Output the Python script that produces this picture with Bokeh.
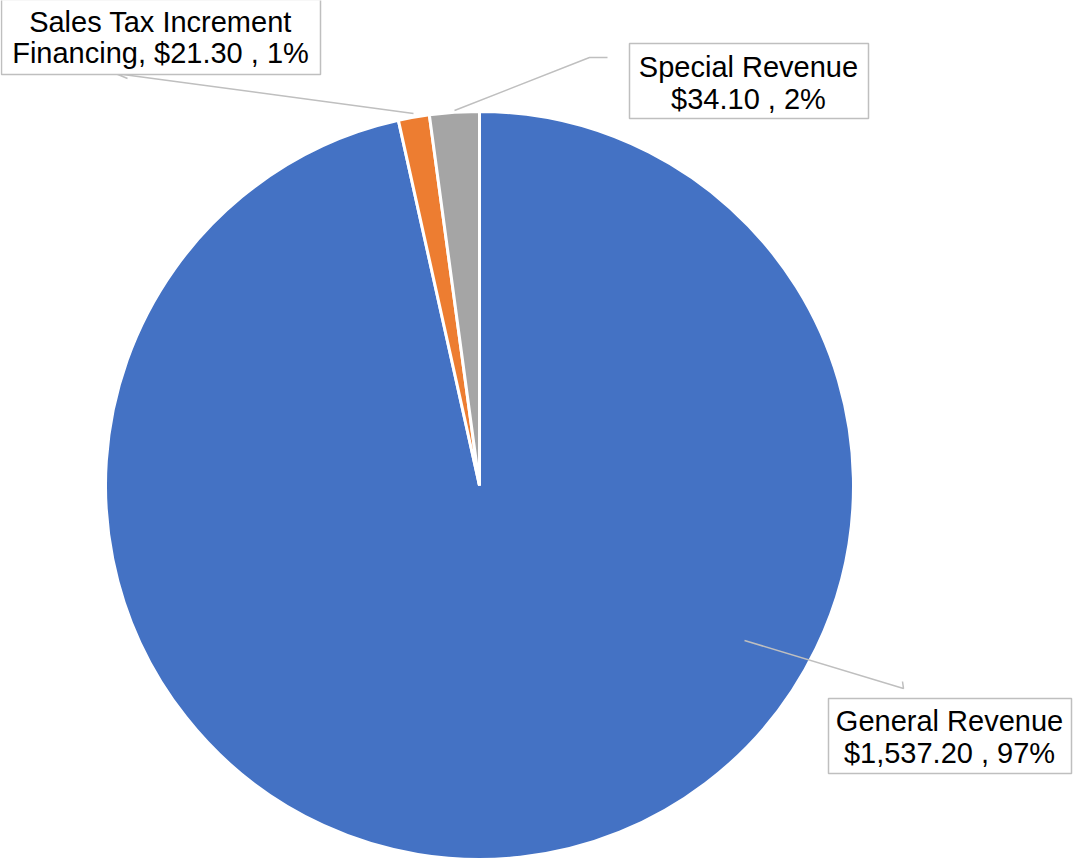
import math
from bokeh.plotting import figure
from bokeh.models import Range1d, ColumnDataSource
from bokeh.core.properties import value
from bokeh.embed import file_html
from bokeh.resources import INLINE

# ---- data ----
categories = ["General Revenue", "Sales Tax Increment Financing", "Special Revenue"]
amounts = [1537.20, 21.30, 34.10]
colors = ["#4472C4", "#ED7D31", "#A5A5A5"]

# ---- layout (page pixel coordinates; data y = H - page_y) ----
W, H = 1076, 861
cx, cy, R = 479, 485, 374

def Y(py):
    return H - py

total = sum(amounts)
fracs = [a / total for a in amounts]
starts, ends = [], []
acc = 0.0
for f in fracs:
    starts.append(math.pi / 2 - 2 * math.pi * acc)
    acc += f
    ends.append(math.pi / 2 - 2 * math.pi * acc)

p = figure(width=W, height=H, output_backend="svg", toolbar_location=None,
           x_range=Range1d(0, W), y_range=Range1d(0, H),
           x_axis_location=None, y_axis_location=None, min_border=0)
p.outline_line_color = None
p.grid.visible = False
p.background_fill_color = "white"
p.border_fill_color = "white"

src = ColumnDataSource(dict(x=[cx] * 3, y=[Y(cy)] * 3, start=starts, end=ends,
                            color=colors, name=categories, amount=amounts))
p.wedge(x="x", y="y", radius=R, start_angle="start", end_angle="end",
        direction="clock", fill_color="color", line_color="white", line_width=3,
        source=src)

# ---- labels ----
def money(v):
    return "${:,.2f}".format(v)

pct = ["{:.0%}".format(f) for f in fracs]
label_lines = [
    [categories[0], f"{money(amounts[0])} , {pct[0]}"],
    ["Sales Tax Increment", f"Financing, {money(amounts[1])} , {pct[1]}"],
    [categories[2], f"{money(amounts[2])} , {pct[2]}"],
]
# box: left, right, top, bottom (page px); text center x, line positions
boxes = [
    (828, 1071, 698, 773, 949, (720, 752)),
    (1, 320, -1, 74, 160, (21, 52)),
    (629, 868, 43, 118, 748, (66, 98)),
]
leaders = [
    ([744, 903, 902], [640, 688, 681]),
    ([413, 115, 127], [113, 73, 78]),
    ([454, 589, 607], [110, 57, 57]),
]

for (xs, ys) in leaders:
    p.line(xs, [Y(v) for v in ys], line_color="#BFBFBF", line_width=1.5)

for lines, (l, r, t, b, tx, bls) in zip(label_lines, boxes):
    p.quad(left=[l], right=[r], top=[Y(t)], bottom=[Y(b)], fill_color="white",
           line_color="#BFBFBF", line_width=1.5)
    p.text(x=[tx, tx], y=[Y(bls[0]), Y(bls[1])], text=lines,
           text_font=value("Liberation Sans"), text_font_size="29px",
           text_align="center", text_baseline="alphabetic", text_color="black")

open("out.html", "w").write(file_html(p, INLINE))
